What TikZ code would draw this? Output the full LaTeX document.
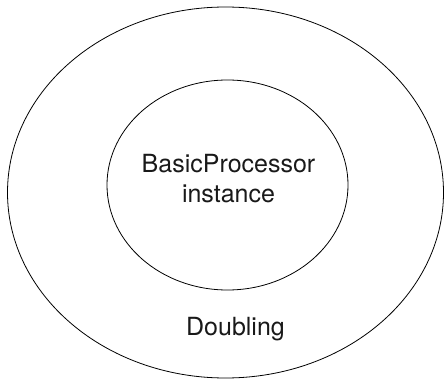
\documentclass[tikz,border=0pt]{standalone}
\usepackage{fontspec}
\setmainfont{TeX Gyre Heros}
\usetikzlibrary{shapes.geometric}
\begin{document}
\begin{tikzpicture}[x=1pt,y=-1pt,
  ring/.style={draw=black, line width=0.8pt, ellipse, inner sep=0pt},
  lbl/.style={font=\fontsize{25}{30}\selectfont, inner sep=0pt, anchor=base, text=black!90}]
\useasboundingbox (0,0) rectangle (444,382);
\node[ring, minimum width=436pt, minimum height=371pt] (outer) at (225.5,192.5) {};
\node[ring, minimum width=241pt, minimum height=210pt] (inner) at (227.5,185) {};
\node[lbl] (t1) at (228.5,172) {BasicProcessor};
\node[lbl] (t2) at (228.5,202) {instance};
\node[lbl] (t3) at (235.5,335) {Doubling};
\end{tikzpicture}
\end{document}
